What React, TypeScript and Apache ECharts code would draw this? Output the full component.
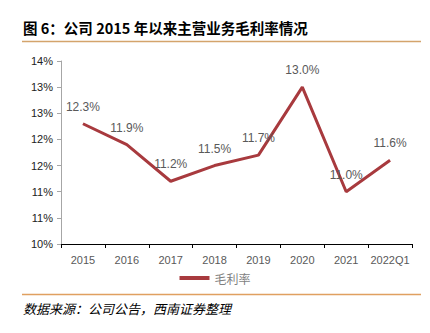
import React, { useEffect, useRef } from "react";
import * as echarts from "echarts";

const categories = ["2015", "2016", "2017", "2018", "2019", "2020", "2021", "2022Q1"];
const grossMargin = [12.3, 11.9, 11.2, 11.5, 11.7, 13.0, 11.0, 11.6];
const seriesName = "毛利率";
const titleText = "图 6：公司 2015 年以来主营业务毛利率情况";
const sourceText = "数据来源：公司公告，西南证券整理";

export default function App() {
  const ref = useRef<HTMLDivElement>(null);
  useEffect(() => {
    const chart = echarts.init(ref.current!, null, { renderer: "svg" });
    chart.setOption({
      animation: false,
      backgroundColor: "#ffffff",
      grid: { left: 61, right: 18, top: 61, bottom: 89 },
      legend: {
        data: [{ name: seriesName, itemStyle: { color: "#A83A3E", opacity: 1 } }],
        bottom: 44,
        left: "center",
        itemWidth: 30,
        itemHeight: 4,
        icon: "rect",
        textStyle: { color: "#7f7f7f", fontSize: 12, fontFamily: "Noto Sans CJK SC" },
      },
      xAxis: {
        type: "category",
        data: categories,
        boundaryGap: true,
        axisLine: { lineStyle: { color: "#000000", width: 1 } },
        axisTick: { show: true, length: 4, interval: 0, lineStyle: { color: "#000000" } },
        axisLabel: { color: "#595959", fontSize: 11, margin: 10, interval: 0, fontFamily: "Liberation Sans" },
      },
      yAxis: {
        type: "value",
        min: 10,
        max: 13.5,
        interval: 0.5,
        axisLine: { show: true, lineStyle: { color: "#a6a6a6" } },
        axisTick: { show: true, length: 4, lineStyle: { color: "#a6a6a6" } },
        splitLine: { show: false },
        axisLabel: {
          color: "#222222",
          fontSize: 11,
          margin: 8,
          fontFamily: "Liberation Sans",
          formatter: (v: number) => Math.floor(v + 0.5) + "%",
        },
      },
      series: [
        {
          name: seriesName,
          type: "line",
          data: grossMargin,
          symbol: "circle",
          symbolSize: 0.1,
          showSymbol: true,
          lineStyle: { color: "#A83A3E", width: 3 },
          itemStyle: { color: "#A83A3E" },
          label: {
            show: true,
            position: "top",
            distance: 11,
            color: "#595959",
            fontSize: 12,
            fontFamily: "Liberation Sans",
            formatter: (p: any) => Number(p.value).toFixed(1) + "%",
          },
        },
      ],
      graphic: [
        {
          type: "text",
          left: 23,
          top: 20,
          style: {
            text: titleText,
            fill: "#000000",
            font: "bold 14.5px 'Noto Sans CJK SC'",
          },
        },
        {
          type: "line",
          shape: { x1: 22, y1: 41.5, x2: 421, y2: 41.5 },
          style: { stroke: "#D4A46C", lineWidth: 1.5 },
        },
        {
          type: "line",
          shape: { x1: 22, y1: 294.5, x2: 421, y2: 294.5 },
          style: { stroke: "#E0A060", lineWidth: 1.5 },
        },
        {
          type: "text",
          left: 23,
          top: 302,
          style: {
            text: sourceText,
            fill: "#000000",
            font: "italic 13px 'Noto Sans CJK SC'",
          },
        },
      ],
    });
    return () => chart.dispose();
  }, []);
  return <div ref={ref} style={{ width: 430, height: 333, position: "absolute", left: 0, top: 0 }} />;
}
